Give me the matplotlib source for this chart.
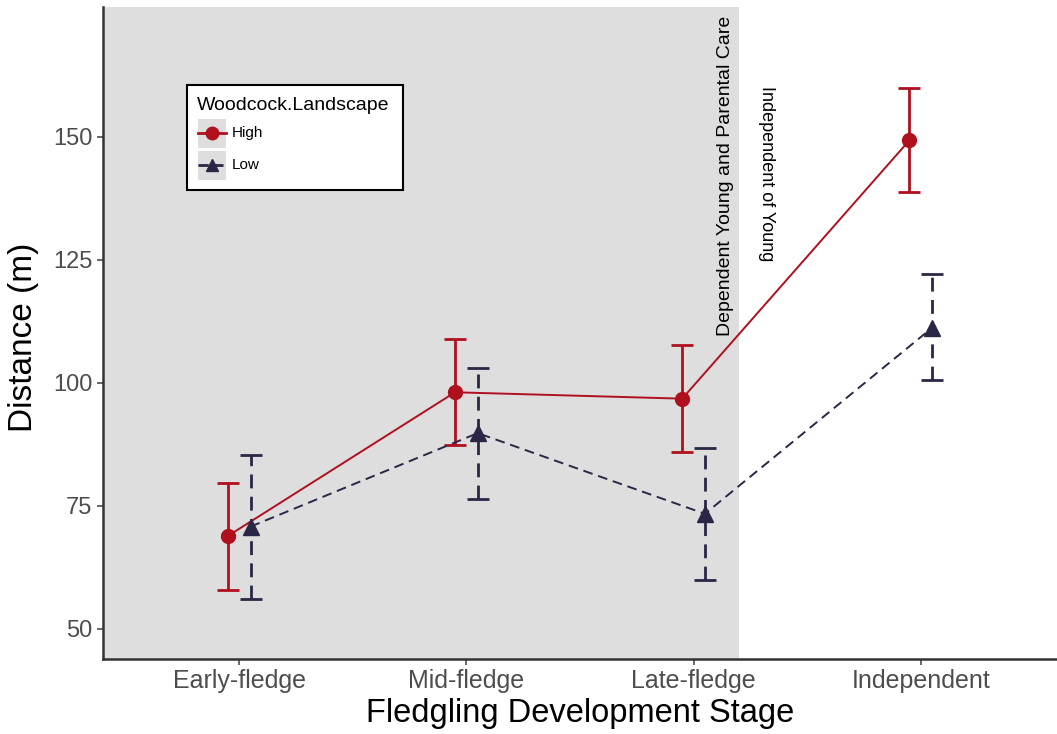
import numpy as np
import matplotlib.pyplot as plt
from matplotlib.patches import Rectangle

plt.rcParams['font.family'] = ['Liberation Sans', 'DejaVu Sans']

# Data
stages = ["Early-fledge", "Mid-fledge", "Late-fledge", "Independent"]
high_mean = [68.9, 98.1, 96.8, 149.3]
high_lo = [57.9, 87.4, 85.9, 138.8]
high_hi = [79.7, 108.9, 107.8, 159.9]
low_mean = [70.8, 89.8, 73.4, 111.2]
low_lo = [56.0, 76.5, 59.9, 100.6]
low_hi = [85.4, 103.1, 86.8, 122.2]

red = "#B0101E"
navy = "#2A2746"
grey_txt = "#4D4D4D"
panel_grey = "#DEDEDE"

x = np.arange(1, len(stages) + 1)
dodge = 0.05

fig = plt.figure(figsize=(10.57, 7.34), dpi=100)
ax = fig.add_axes([0.0974, 0.1022, 0.9026, 0.8883])

# shaded "dependent" period
ax.axvspan(0, 3.2, color=panel_grey, lw=0, zorder=0)

# High
hm = np.array(high_mean)
ax.errorbar(x - dodge, hm, yerr=[hm - np.array(high_lo), np.array(high_hi) - hm],
            fmt="none", ecolor=red, elinewidth=2, capsize=8, capthick=2, zorder=2)
ax.plot(x - dodge, hm, color=red, lw=1.4, marker="o", ms=10, zorder=3)

# Low
lm = np.array(low_mean)
eb = ax.errorbar(x + dodge, lm, yerr=[lm - np.array(low_lo), np.array(low_hi) - lm],
                 fmt="none", ecolor=navy, elinewidth=2, capsize=8, capthick=2, zorder=2)
eb[2][0].set_linestyle((0, (5, 3)))
ax.plot(x + dodge, lm, color=navy, lw=1.4, ls=(0, (5, 3)), marker="^", ms=11, zorder=3)

ax.text(3.14, 142.1, "Dependent Young and Parental Care", rotation=90,
        ha="center", va="center", fontsize=14)
ax.text(3.32, 142.5, "Independent of Young", rotation=270,
        ha="center", va="center", fontsize=13)

ax.set_xlim(0.4, 4.6)
ax.set_ylim(43.9, 176.4)
ax.set_xticks(x)
ax.set_xticklabels(stages)
ax.set_yticks([50, 75, 100, 125, 150])
ax.tick_params(axis="both", colors=grey_txt, length=4, width=1.2, labelsize=17)
ax.tick_params(axis="x", labelsize=18)
ax.set_xlabel("Fledgling Development Stage", fontsize=23.5, labelpad=3)
ax.set_ylabel("Distance (m)", fontsize=24)
ax.yaxis.set_label_coords(-0.067, 0.493)

for s in ["top", "right"]:
    ax.spines[s].set_visible(False)
for s in ["left", "bottom"]:
    ax.spines[s].set_color("#333333")
    ax.spines[s].set_linewidth(1.8)

# legend, drawn by hand in axes fraction (ggplot style with grey key boxes)
W, H = 954.0, 652.0   # axes size in px


def fx(px):
    return (px - 103) / W


def fy(py):
    return (659 - py) / H


ax.add_patch(Rectangle((fx(187), fy(190)), 216 / W, 105 / H, transform=ax.transAxes,
                       facecolor="white", edgecolor="black", lw=1.5, zorder=5))
ax.text(fx(197), fy(110), "Woodcock.Landscape", transform=ax.transAxes,
        fontsize=14, va="baseline", ha="left", zorder=6)
keys = [("High", red, "o", "-", 133.5), ("Low", navy, "^", "--", 165.5)]
for lab, col, mk, ls, cy in keys:
    ax.add_patch(Rectangle((fx(198), fy(cy + 14.5)), 28 / W, 29 / H,
                           transform=ax.transAxes, facecolor=panel_grey,
                           edgecolor="none", zorder=6))
    ax.plot([fx(198), fx(226)], [fy(cy), fy(cy)], color=col, lw=2, ls=ls,
            transform=ax.transAxes, clip_on=False, zorder=7)
    ax.plot([fx(212)], [fy(cy)], color=col, marker=mk, ms=9,
            transform=ax.transAxes, clip_on=False, zorder=7)
    ax.text(fx(232), fy(cy), lab, transform=ax.transAxes, fontsize=11,
            va="center", ha="left", zorder=7)

fig.savefig("out.png", dpi=100)
